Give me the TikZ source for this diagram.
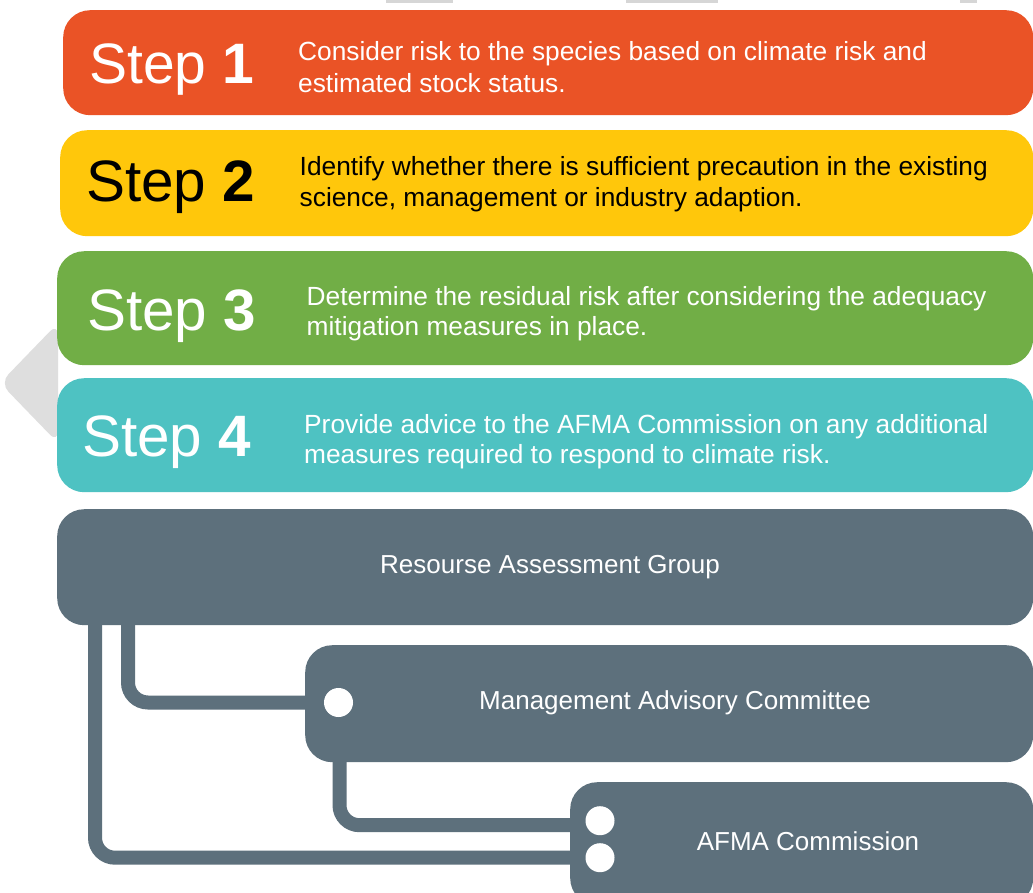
\documentclass[tikz,border=0pt]{standalone}
\usepackage{fontspec}
\setmainfont{Liberation Sans}
\usetikzlibrary{backgrounds}

\definecolor{stepone}{HTML}{EA5326}
\definecolor{steptwo}{HTML}{FFC70B}
\definecolor{stepthree}{HTML}{71AE46}
\definecolor{stepfour}{HTML}{4EC2C2}
\definecolor{slate}{HTML}{5D707C}
\definecolor{arrowgrey}{HTML}{DEDEDE}
\definecolor{edgegrey}{HTML}{D6D6D6}

\begin{document}
\begin{tikzpicture}[x=1pt, y=-1pt,
  panel/.style={rectangle, rounded corners=27pt, inner sep=0pt, anchor=north west},
  steptag/.style={anchor=base west, inner sep=0pt, font=\fontsize{58.4}{62}\selectfont},
  steptext/.style={anchor=base west, inner sep=0pt, font=\fontsize{26.3}{31}\selectfont},
  grouptext/.style={anchor=base, inner sep=0pt, text=white, font=\fontsize{26}{31}\selectfont},
  port/.style={circle, fill=white, minimum size=29pt, inner sep=0pt},
  link/.style={draw=slate, line width=14pt, rounded corners=20pt}]

\useasboundingbox (0,0) rectangle (1033,892);
\clip (0,0) rectangle (1033,892);

% thin grey marks along the top edge
\fill[edgegrey] (386,0) rectangle (453,2.5);
\fill[edgegrey] (626,0) rectangle (718,2.5);
\fill[edgegrey] (960,0) rectangle (977,2.5);

% the four steps
\node[panel, fill=stepone, minimum width=970pt, minimum height=105pt] (s1) at (63,10) {};
\node[panel, fill=steptwo, minimum width=973pt, minimum height=106pt] (s2) at (60,130) {};
\node[panel, fill=stepthree, minimum width=976pt, minimum height=114pt] (s3) at (57,251) {};
\node[panel, fill=stepfour, minimum width=976pt, minimum height=114pt] (s4) at (57,378) {};

\node[steptag, text=white, font=\fontsize{57}{62}\selectfont] (t1) at (89,83.3) {Step \textbf{1}};
\node[steptext, text=white] (b1a) at (298,60.7) {Consider risk to the species based on climate risk and};
\node[steptext, text=white] (b1b) at (298,92.7) {estimated stock status.};

\node[steptag, text=black] (t2) at (86,201.7) {Step \textbf{2}};
\node[steptext, text=black] (b2a) at (299.5,175.7) {Identify whether there is sufficient precaution in the existing};
\node[steptext, text=black] (b2b) at (299.5,206.7) {science, management or industry adaption.};

\node[steptag, text=white] (t3) at (87,330) {Step \textbf{3}};
\node[steptext, text=white] (b3a) at (306.5,305.7) {Determine the residual risk after considering the adequacy};
\node[steptext, text=white] (b3b) at (306.5,335.5) {mitigation measures in place.};

\node[steptag, text=white] (t4) at (82,456.7) {Step \textbf{4}};
\node[steptext, text=white] (b4a) at (304,433.3) {Provide advice to the AFMA Commission on any additional};
\node[steptext, text=white] (b4b) at (304,463.8) {measures required to respond to climate risk.};

% advisory bodies
\node[panel, fill=slate, minimum width=976pt, minimum height=116pt] (rag) at (57,509) {};
\node[panel, fill=slate, minimum width=728pt, minimum height=117pt] (mac) at (305,645) {};
\node[panel, fill=slate, minimum width=463pt, minimum height=123pt] (afma) at (570,782) {};

\node[grouptext] (ragl) at (550,573.3) {Resourse Assessment Group};
\node[grouptext] (macl) at (675,709) {Management Advisory Committee};
\node[grouptext] (afmal) at (808,850) {AFMA Commission};

% connection ports
\node[port] (pmac) at (338.5,702.5) {};
\node[port] (pafa) at (600,820.7) {};
\node[port] (pafb) at (600,857.7) {};

\begin{pgfonlayer}{background}
  \fill[white] (0,0) rectangle (1033,892);
  % grey pointer behind steps 3 and 4
  \fill[arrowgrey, rounded corners=12pt] (58,323) -- (0,383) -- (58,443) -- cycle;
  % links between the bodies
  \draw[link] ([xshift=38pt, yshift=4pt]rag.south west) |- (pafb);
  \draw[link] ([xshift=71pt, yshift=4pt]rag.south west) |- (pmac);
  \draw[link] ([xshift=34.5pt, yshift=4pt]mac.south west) |- ([yshift=-4.5pt]pafa.west);
\end{pgfonlayer}
\end{tikzpicture}
\end{document}
